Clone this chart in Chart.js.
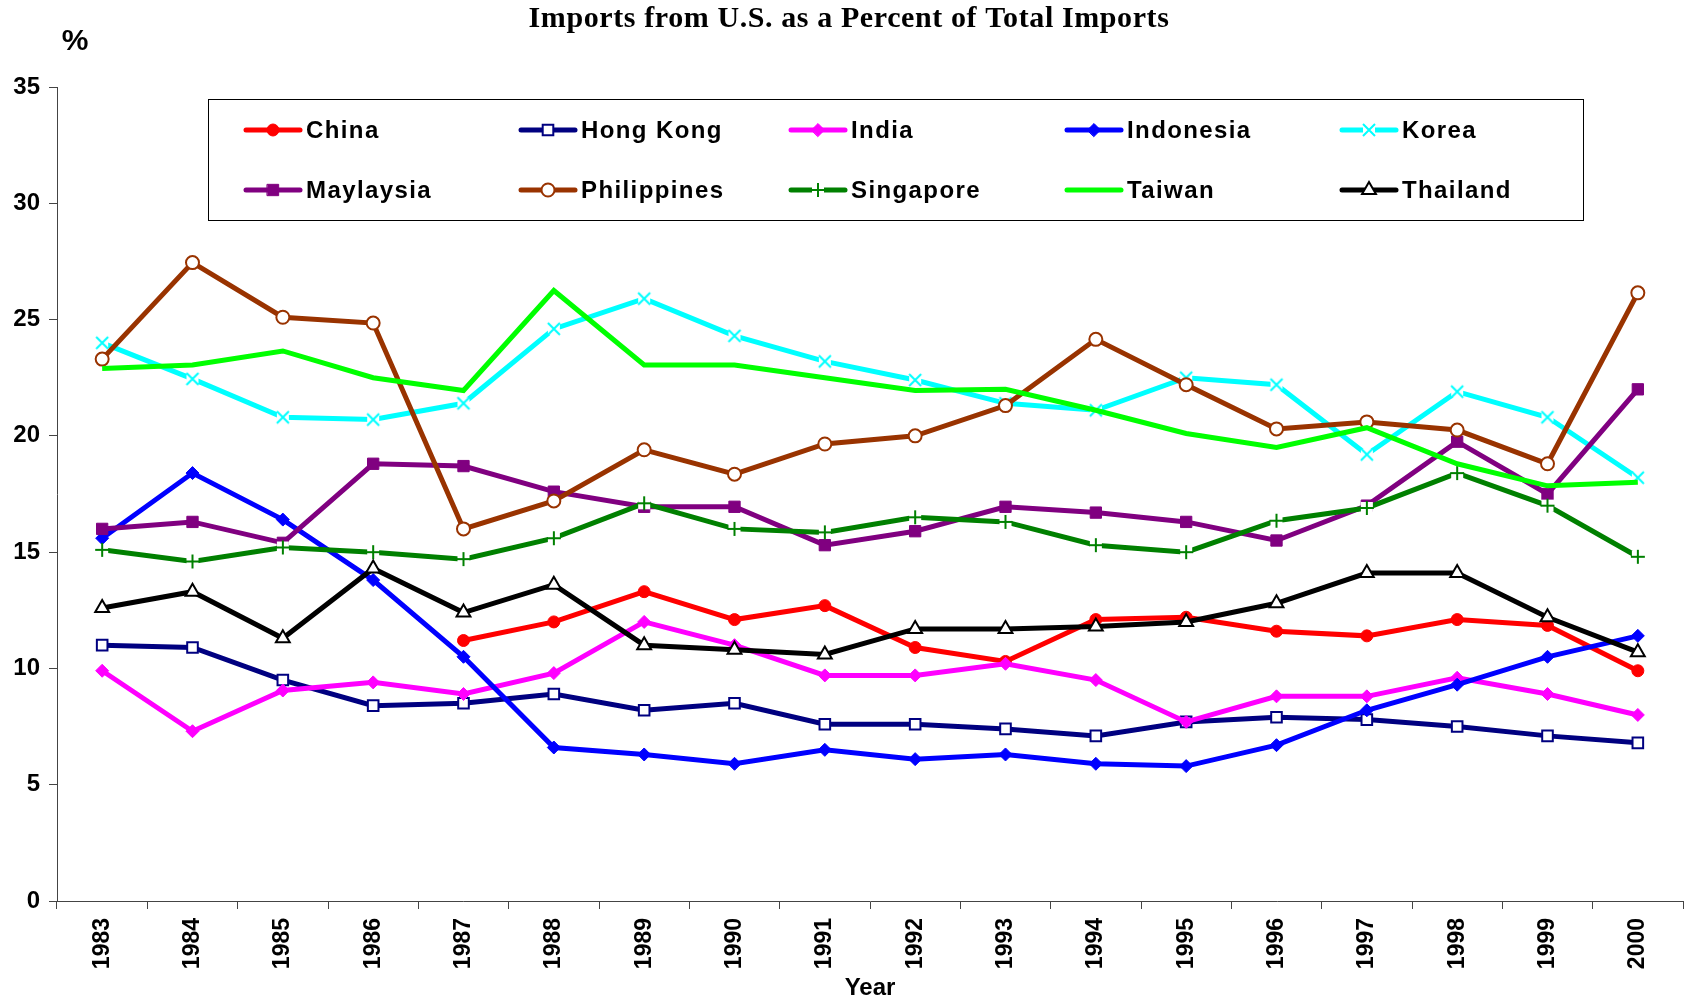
<!DOCTYPE html>
<html>
<head>
<meta charset="utf-8">
<title>Imports from U.S. as a Percent of Total Imports</title>
<script src="https://cdn.jsdelivr.net/npm/chart.js"></script>
<style>
  html, body { margin: 0; padding: 0; background: #fff; }
  canvas { display: block; }
</style>
</head>
<body>
<canvas id="chart" width="1693" height="1003"></canvas>
<script>
const years = ["1983", "1984", "1985", "1986", "1987", "1988", "1989", "1990", "1991",
  "1992", "1993", "1994", "1995", "1996", "1997", "1998", "1999", "2000"]

const china = [null, null, null, null, 11.2, 12.0, 13.3, 12.1, 12.7, 10.9, 10.3, 12.1, 12.2, 11.6, 11.4, 12.1, 11.85, 9.9]
const hongKong = [11.0, 10.9, 9.5, 8.4, 8.5, 8.9, 8.2, 8.5, 7.6, 7.6, 7.4, 7.1, 7.7, 7.9, 7.8, 7.5, 7.1, 6.8]
const india = [9.9, 7.3, 9.05, 9.4, 8.9, 9.8, 12.0, 11.0, 9.7, 9.7, 10.2, 9.5, 7.7, 8.8, 8.8, 9.6, 8.9, 8.0]
const indonesia = [15.6, 18.4, 16.4, 13.8, 10.5, 6.6, 6.3, 5.9, 6.5, 6.1, 6.3, 5.9, 5.8, 6.7, 8.2, 9.3, 10.5, 11.4]
const korea = [24.0, 22.45, 20.8, 20.7, 21.4, 24.6, 25.9, 24.3, 23.2, 22.4, 21.4, 21.1, 22.5, 22.2, 19.2, 21.9, 20.8, 18.2]
const malaysia = [16.0, 16.3, 15.4, 18.8, 18.7, 17.6, 16.95, 16.95, 15.3, 15.9, 16.95, 16.7, 16.3, 15.5, 17.0, 19.75, 17.5, 22.0]
const philippines = [23.3, 27.45, 25.1, 24.85, 16.0, 17.2, 19.4, 18.35, 19.65, 20.0, 21.3, 24.15, 22.2, 20.3, 20.6, 20.25, 18.8, 26.15]
const singapore = [15.1, 14.6, 15.2, 15.0, 14.7, 15.6, 17.1, 16.0, 15.85, 16.5, 16.3, 15.3, 15.0, 16.35, 16.9, 18.4, 17.0, 14.8]
const taiwan = [22.9, 23.05, 23.65, 22.5, 21.95, 26.25, 23.05, 23.05, 22.5, 21.95, 22.0, 21.1, 20.1, 19.5, 20.35, 18.8, 17.85, 18.0]
const thailand = [12.6, 13.3, 11.3, 14.3, 12.4, 13.6, 11.0, 10.8, 10.6, 11.7, 11.7, 11.8, 12.0, 12.8, 14.1, 14.1, 12.2, 10.7]

const sansFamily = "'Liberation Sans', Arial, sans-serif"

// cross / plus markers sit on a small white patch, so the line breaks around them
function patchMarker(color, rotated) {
  const c = document.createElement("canvas")
  c.width = 16
  c.height = 16
  const g = c.getContext("2d")
  g.fillStyle = "#fff"
  g.fillRect(2, 2, 12, 12)
  g.strokeStyle = color
  g.lineWidth = 2
  g.beginPath()
  if (rotated) {
    g.moveTo(2, 2); g.lineTo(14, 14)
    g.moveTo(14, 2); g.lineTo(2, 14)
  } else {
    g.moveTo(8, 1); g.lineTo(8, 15)
    g.moveTo(1, 8); g.lineTo(15, 8)
  }
  g.stroke()
  return c
}

function series(label, data, color, marker) {
  return {
    label: label,
    data: data,
    borderColor: color,
    borderWidth: 5,
    tension: 0,
    pointStyle: marker.style,
    pointRadius: marker.radius,
    pointHoverRadius: marker.radius,
    pointBackgroundColor: marker.fill || color,
    pointBorderColor: color,
    pointBorderWidth: marker.border || 1
  }
}

const datasets = [
  series("China", china, "#ff0000", { style: "circle", radius: 6 }),
  series("Hong Kong", hongKong, "#000080", { style: "rect", radius: 7.5, fill: "#fff", border: 2 }),
  series("India", india, "#ff00ff", { style: "rectRot", radius: 6.5 }),
  series("Indonesia", indonesia, "#0000ff", { style: "rectRot", radius: 6.5 }),
  series("Korea", korea, "#00ffff", { style: patchMarker("#00ffff", true), radius: 7 }),
  series("Maylaysia", malaysia, "#800080", { style: "rect", radius: 8 }),
  series("Philippines", philippines, "#993300", { style: "circle", radius: 6.5, fill: "#fff", border: 2 }),
  series("Singapore", singapore, "#008000", { style: patchMarker("#008000", false), radius: 7 }),
  series("Taiwan", taiwan, "#00ff00", { style: "circle", radius: 0 }),
  series("Thailand", thailand, "#000000", { style: "triangle", radius: 8, fill: "#fff", border: 2 })
]
// later series are painted on top of earlier ones
datasets.forEach((ds, i) => { ds.order = datasets.length - i })

function drawMarker(ctx, ds, x, y) {
  if (!ds.pointRadius) return
  ctx.save()
  ctx.fillStyle = ds.pointBackgroundColor
  ctx.strokeStyle = ds.pointBorderColor
  ctx.lineWidth = ds.pointBorderWidth
  Chart.helpers.drawPoint(ctx, {
    pointStyle: ds.pointStyle,
    radius: ds.pointRadius,
    rotation: 0,
    borderWidth: ds.pointBorderWidth
  }, x, y)
  ctx.restore()
}

const frameText = {
  id: "frameText",
  afterDraw(chart) {
    const ctx = chart.ctx
    ctx.save()
    ctx.fillStyle = "#000"
    ctx.textBaseline = "middle"
    ctx.textAlign = "center"
    ctx.font = "bold 30px 'Liberation Serif', 'Times New Roman', serif"
    ctx.letterSpacing = "0.6px"
    ctx.fillText("Imports from U.S. as a Percent of Total Imports", 849, 19)
    ctx.letterSpacing = "0px"
    ctx.font = "bold 30px " + sansFamily
    ctx.fillText("%", 75, 42)
    ctx.restore()
  }
}

// boxed legend, five columns by two rows
const boxLegend = {
  id: "boxLegend",
  afterDraw(chart) {
    const ctx = chart.ctx
    const cols = [246, 521, 791, 1067, 1342]
    const rows = [130, 190]
    ctx.save()
    ctx.strokeStyle = "#000"
    ctx.lineWidth = 1
    ctx.strokeRect(208.5, 99.5, 1375, 121)
    ctx.font = "bold 24px " + sansFamily
    ctx.letterSpacing = "1.4px"
    ctx.textBaseline = "middle"
    ctx.textAlign = "left"
    chart.data.datasets.forEach((ds, i) => {
      const x = cols[i % 5]
      const y = rows[Math.floor(i / 5)]
      ctx.strokeStyle = ds.borderColor
      ctx.lineWidth = ds.borderWidth
      ctx.lineCap = "round"
      ctx.beginPath()
      ctx.moveTo(x, y)
      ctx.lineTo(x + 54, y)
      ctx.stroke()
      drawMarker(ctx, ds, x + 27, y)
      ctx.fillStyle = "#000"
      ctx.fillText(ds.label, x + 60, y + 1)
    })
    ctx.restore()
  }
}

new Chart(document.getElementById("chart"), {
  type: "line",
  data: {
    labels: years,
    datasets: datasets
  },
  options: {
    responsive: false,
    devicePixelRatio: 1,
    animation: false,
    events: [],
    layout: {
      padding: { top: 87, right: 7, bottom: 0, left: 0 }
    },
    scales: {
      x: {
        offset: true,
        grid: {
          offset: true,
          drawOnChartArea: false,
          tickLength: 8,
          color: "#444"
        },
        border: { color: "#444", width: 1 },
        ticks: {
          minRotation: 90,
          maxRotation: 90,
          autoSkip: false,
          padding: 9,
          color: "#000",
          font: { family: sansFamily, size: 23, weight: "bold" }
        },
        title: {
          display: true,
          text: "Year",
          color: "#000",
          padding: { top: 0, bottom: 0 },
          font: { family: sansFamily, size: 24, weight: "bold" }
        },
        afterFit(scale) { scale.height = 102 }
      },
      y: {
        min: 0,
        max: 35,
        grid: {
          drawOnChartArea: false,
          tickLength: 8,
          color: "#444"
        },
        border: { color: "#444", width: 1 },
        ticks: {
          stepSize: 5,
          padding: 9,
          color: "#000",
          font: { family: sansFamily, size: 24, weight: "bold" }
        },
        afterFit(scale) { scale.width = 57 }
      }
    },
    plugins: {
      legend: { display: false },
      title: { display: false },
      tooltip: { enabled: false }
    }
  },
  plugins: [frameText, boxLegend]
})
</script>
</body>
</html>
